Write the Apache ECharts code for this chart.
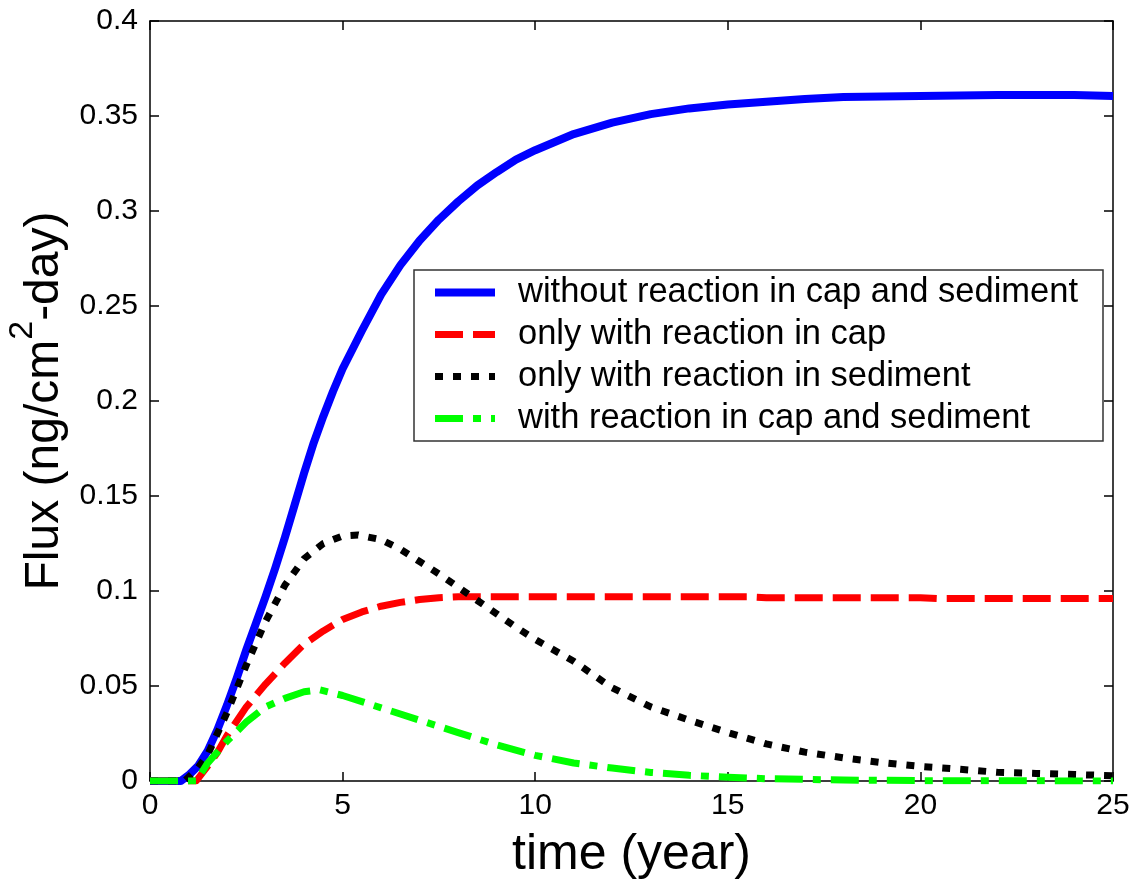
<!DOCTYPE html>
<html>
<head>
<meta charset="utf-8">
<script src="https://cdn.jsdelivr.net/npm/echarts@6/dist/echarts.min.js"></script>
<style>
html,body{margin:0;padding:0;background:#fff;}
#chart{width:1136px;height:882px;}
</style>
</head>
<body>
<div id="chart"></div>
<script>
// ---- data ----
const seriesNames = [
  'without reaction in cap and sediment',
  'only with reaction in cap',
  'only with reaction in sediment',
  'with reaction in cap and sediment'
];
const xTicks = [0, 5, 10, 15, 20, 25];
const yTicks = [0, 0.05, 0.1, 0.15, 0.2, 0.25, 0.3, 0.35, 0.4];

const tBlue = [0, 0.8, 1.0, 1.25, 1.5, 1.75, 2.0, 2.25, 2.5, 2.75, 3.0, 3.25, 3.5, 3.75, 4.0, 4.25, 4.5, 4.75, 5.0, 5.5, 6.0, 6.5, 7.0, 7.5, 8.0, 8.5, 9.0, 9.5, 10, 11, 12, 13, 14, 15, 16, 17, 18, 20, 22, 24, 25];
const vBlue = [0, 0, 0.003, 0.008, 0.016, 0.027, 0.04, 0.054, 0.069, 0.083, 0.097, 0.112, 0.128, 0.145, 0.162, 0.178, 0.192, 0.205, 0.217, 0.237, 0.256, 0.2715, 0.2845, 0.2955, 0.305, 0.3135, 0.3205, 0.327, 0.332, 0.3405, 0.3465, 0.351, 0.354, 0.356, 0.3575, 0.359, 0.36, 0.3605, 0.361, 0.361, 0.3605];

const tRed = [0, 1.2, 1.5, 1.75, 2.0, 2.5, 3.0, 3.5, 4.0, 4.5, 5.0, 5.5, 6.0, 6.5, 7.0, 7.5, 8.0, 8.5, 10, 12, 15.5, 16, 20, 20.5, 25];
const vRed = [0, 0, 0.008, 0.015, 0.024, 0.039, 0.051, 0.062, 0.072, 0.079, 0.085, 0.089, 0.092, 0.094, 0.0955, 0.0965, 0.097, 0.097, 0.097, 0.097, 0.097, 0.0965, 0.0965, 0.096, 0.096];

const tBlack = [0, 0.9, 1.0, 1.25, 1.5, 1.75, 2.0, 2.5, 3.0, 3.5, 4.0, 4.5, 5.0, 5.4, 6.0, 6.5, 7.0, 7.5, 8.0, 8.5, 9.0, 9.5, 10, 11, 12, 13, 14, 15, 16, 17, 18, 19, 20, 21, 22, 23, 24, 25];
const vBlack = [0, 0, 0.002, 0.007, 0.014, 0.025, 0.036, 0.061, 0.084, 0.103, 0.117, 0.125, 0.129, 0.1295, 0.127, 0.122, 0.1155, 0.109, 0.102, 0.095, 0.088, 0.081, 0.0745, 0.063, 0.049, 0.039, 0.032, 0.0255, 0.0195, 0.0152, 0.0122, 0.0097, 0.0077, 0.0062, 0.0046, 0.004, 0.0034, 0.0028];

const tGreen = [0, 1.2, 1.5, 2.0, 2.5, 3.0, 3.5, 4.0, 4.4, 5.0, 5.5, 6.0, 7.0, 8.0, 9.0, 10, 11, 12, 13, 14, 15, 16, 18, 20, 25];
const vGreen = [0, 0, 0.0095, 0.021, 0.031, 0.039, 0.0435, 0.047, 0.048, 0.045, 0.0418, 0.0385, 0.032, 0.0255, 0.019, 0.0135, 0.0095, 0.0068, 0.0045, 0.003, 0.002, 0.0012, 0.0005, 0.0002, 0];

// ---- build ----
const zip = (t, v) => t.map((x, i) => [x, v[i]]);
const FONT = "'Liberation Sans', Arial, Helvetica, sans-serif";
const colors = ['#0000ff', '#ff0000', '#000000', '#00ff00'];
const dashes = ['solid', [28, 10], [8, 10], [28, 10, 8, 10]];
const widths = [8, 7, 7, 7];

const chart = echarts.init(document.getElementById('chart'), null, {renderer: 'canvas'});

function axisCommon() {
  return {
    axisLine: {show: true, onZero: false, lineStyle: {color: '#000', width: 1.5}},
    axisTick: {show: true, inside: true, length: 9, lineStyle: {color: '#000', width: 1.5}},
    splitLine: {show: false}
  };
}

function mkLine(i, data) {
  return {
    name: seriesNames[i], type: 'line', data: data,
    xAxisIndex: 0, yAxisIndex: 0,
    symbol: 'none', showSymbol: false,
    smooth: false,
    lineStyle: {color: colors[i], width: widths[i], type: dashes[i], cap: 'butt', join: 'round'},
    itemStyle: {color: colors[i]},
    emphasis: {disabled: true},
    animation: false
  };
}

const option = {
  backgroundColor: '#fff',
  animation: false,
  textStyle: {fontFamily: FONT},
  grid: {left: 150, top: 21, right: 23, bottom: 101, containLabel: false, outerBoundsMode: 'none'},
  xAxis: [
    Object.assign({
      type: 'value', position: 'bottom', min: 0, max: 25, interval: 5,
      axisLabel: {show: true, color: '#000', fontSize: 30, fontFamily: FONT, margin: 10,
        formatter: v => (xTicks.indexOf(v) >= 0 ? String(v) : '')},
      name: 'time (year)', nameLocation: 'middle', nameGap: 49,
      nameTextStyle: {color: '#000', fontSize: 50, fontFamily: FONT}
    }, axisCommon()),
    Object.assign({
      type: 'value', position: 'top', min: 0, max: 25, interval: 5,
      axisLabel: {show: false}
    }, axisCommon())
  ],
  yAxis: [
    Object.assign({
      type: 'value', position: 'left', min: 0, max: 0.4, interval: 0.05,
      axisLabel: {show: true, color: '#000', fontSize: 30, fontFamily: FONT, margin: 12,
        formatter: v => {
          const m = yTicks.find(t => Math.abs(t - v) < 1e-9);
          return m === undefined ? '' : String(m);
        }},
      name: '{b|Flux (ng/cm}{sup|2}{b|-day)}', nameLocation: 'middle', nameGap: 63, nameRotate: 90,
      nameTextStyle: {color: '#000', fontSize: 48, fontFamily: FONT,
        rich: {
          b: {fontSize: 48, fontFamily: FONT, color: '#000', lineHeight: 78},
          sup: {fontSize: 34, fontFamily: FONT, color: '#000', verticalAlign: 'top'}
        }}
    }, axisCommon()),
    Object.assign({
      type: 'value', position: 'right', min: 0, max: 0.4, interval: 0.05,
      axisLabel: {show: false}
    }, axisCommon())
  ],
  legend: {
    show: true, orient: 'vertical', left: 414, top: 270,
    data: seriesNames.map((n, i) => ({
      name: n,
      lineStyle: {color: colors[i], width: widths[i], type: dashes[i], cap: 'butt'}
    })),
    backgroundColor: '#fff', borderColor: '#333', borderWidth: 1.5, borderRadius: 0,
    padding: [5, 25, 5, 17],
    itemWidth: 60, itemHeight: 20, itemGap: 7,
    selectedMode: false,
    textStyle: {color: '#000', fontSize: 34.5, fontFamily: FONT, lineHeight: 32, padding: [0, 0, 0, 18]},
    itemStyle: {opacity: 0}
  },
  series: [
    mkLine(0, zip(tBlue, vBlue)),
    mkLine(1, zip(tRed, vRed)),
    mkLine(2, zip(tBlack, vBlack)),
    mkLine(3, zip(tGreen, vGreen))
  ]
};
chart.setOption(option);
</script>
</body>
</html>
